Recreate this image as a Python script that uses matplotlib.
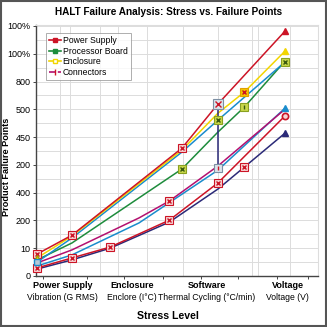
import numpy as np
import matplotlib
matplotlib.use("Agg")
import matplotlib.pyplot as plt
from matplotlib.lines import Line2D
from matplotlib.patches import Rectangle

plt.rcParams["font.family"] = ["Liberation Sans", "DejaVu Sans"]

# stress positions (arbitrary stress scale) and failure point levels
ps_x = [0.04, 1.27, 5.14, 6.41, 8.77]
ps_y = [0.79, 1.47, 4.60, 6.19, 8.81]

encl_x = [0.04, 1.27, 5.14, 6.41, 7.34, 8.77]
encl_y = [0.65, 1.44, 4.53, 5.86, 6.62, 8.09]

blue_hi_x = [0.04, 1.27, 5.14, 6.41, 8.77]
blue_hi_y = [0.50, 1.37, 4.46, 5.61, 7.70]

proc_x = [0.04, 1.27, 5.14, 6.41, 7.34, 8.77]
proc_y = [0.58, 1.19, 3.85, 5.18, 6.08, 7.73]

conn_x = [0.04, 1.27, 3.63, 4.70, 6.41, 8.77]
conn_y = [0.47, 0.94, 2.09, 2.70, 3.96, 6.00]

blue_lo_x = [0.04, 1.27, 3.63, 6.41, 8.77]
blue_lo_y = [0.36, 0.76, 1.91, 3.81, 6.04]

red_lo_x = [0.04, 1.27, 2.61, 4.70, 6.41, 8.77]
red_lo_y = [0.29, 0.65, 1.04, 2.01, 3.35, 5.76]

navy_x = [0.04, 1.27, 2.61, 4.70, 6.41, 7.34, 8.77]
navy_y = [0.25, 0.58, 1.00, 1.94, 3.13, 3.92, 5.14]

link_x = [6.41, 6.41]
link_y = [6.19, 3.90]

ytick_labels = ["0", "10", "200", "400", "200", "450", "500", "800", "100%", "100%"]
cat_x = [0.95, 3.38, 6.02, 8.87]
cat_top = ["Power Supply", "Enclosure", "Software", "Voltage"]
cat_bottom = ["Vibration (G RMS)", "Enclore (I°C)", "Thermal Cycling (°C/min)", "Voltage (V)"]
xtick_pos = [0.25, 1.8, 3.1, 4.47, 5.8, 7.1, 8.5, 9.6]

RED = "#cc1426"
GREEN = "#1e8c3c"
YELLOW = "#f2d500"
BLUE = "#1a8ccc"
MAGENTA = "#b3106f"
NAVY = "#2b2a78"

fig = plt.figure(figsize=(3.27, 3.27), dpi=100)
ax = fig.add_axes([0.110, 0.156, 0.862, 0.768])

# grid
for gx in [0.85, 1.2, 2.25, 2.89, 3.91, 5.18, 6.41, 7.6, 7.82, 8.94]:
    ax.axvline(gx, color="#dcdcdc", lw=0.7, zorder=0)
for gy in np.arange(0.5, 9.1, 0.5):
    ax.axhline(gy, color="#dcdcdc", lw=0.7, zorder=0)

lw = 1.1
ax.plot(navy_x, navy_y, color=NAVY, lw=lw, zorder=2)
ax.plot(red_lo_x, red_lo_y, color=RED, lw=lw, zorder=2)
ax.plot(blue_lo_x, blue_lo_y, color=BLUE, lw=lw, zorder=2)
ax.plot(conn_x, conn_y, color=MAGENTA, lw=lw, zorder=2)
ax.plot(proc_x, proc_y, color=GREEN, lw=lw, zorder=2)
ax.plot(blue_hi_x, blue_hi_y, color=BLUE, lw=lw, zorder=2)
ax.plot(encl_x, encl_y, color=YELLOW, lw=lw, zorder=3)
ax.plot(ps_x, ps_y, color=RED, lw=lw, zorder=3)
ax.plot(link_x, link_y, color=NAVY, lw=lw, zorder=3)


def boxed(x, y, face, edge, inner, imark="x", size=5.5):
    ax.plot(x, y, ls="none", marker="s", ms=size, mfc=face, mec=edge, mew=0.8,
            zorder=5, clip_on=False)
    ax.plot(x, y, ls="none", marker=imark, ms=size * 0.6, mec=inner, mew=1.0,
            zorder=6, clip_on=False)


# x-in-box markers
boxed(ps_x[:3], ps_y[:3], "#f6d3d3", RED, RED)
boxed(red_lo_x[:5], red_lo_y[:5], "#f6d3d3", RED, RED)
boxed([navy_x[5]], [navy_y[5]], "#f6d3d3", RED, RED)
boxed([conn_x[3]], [conn_y[3]], "#f6d3d3", RED, RED)
boxed([ps_x[3]], [ps_y[3]], "#dce4ec", "#7d8fa3", RED, size=6.5)
boxed([encl_x[4]], [encl_y[4]], "#f4c400", "#e0a000", RED)
boxed([blue_hi_x[3], blue_hi_x[4]], [blue_hi_y[3], blue_hi_y[4]], "#c8d84a", "#8aa020", "#3a5a10")
boxed([proc_x[2]], [proc_y[2]], "#c8d84a", "#8aa020", "#3a5a10")
boxed([proc_x[4]], [proc_y[4]], "#c8d84a", "#8aa020", "#3a5a10", imark="|")
boxed([link_x[1]], [link_y[1]], "#dce4ec", "#7d8fa3", RED, imark="|")

# end / start markers
ax.plot(ps_x[-1], ps_y[-1], marker="^", ms=5, color=RED, zorder=6, clip_on=False)
ax.plot(encl_x[-1], encl_y[-1], marker="^", ms=5, color=YELLOW, zorder=6, clip_on=False)
ax.plot(blue_lo_x[-1], blue_lo_y[-1], marker="^", ms=5, color=BLUE, zorder=6, clip_on=False)
ax.plot(navy_x[-1], navy_y[-1], marker="^", ms=5, color=NAVY, zorder=6, clip_on=False)
ax.plot(red_lo_x[-1], red_lo_y[-1], marker="o", ms=4.5, mfc="#f6d3d3", mec=RED, mew=1.2,
        zorder=6, clip_on=False)
ax.plot(encl_x[0], encl_y[0], marker="^", ms=4.5, color=YELLOW, mec="#a0a000", zorder=6, clip_on=False)
ax.plot(blue_hi_x[0], blue_hi_y[0], marker="s", ms=4.5, mfc="#b8c8d8", mec=BLUE, zorder=6, clip_on=False)

ax.set_xlim(0, 9.93)
ax.set_ylim(0, 9.04)
ax.set_yticks(range(len(ytick_labels)))
ax.set_yticklabels(ytick_labels, fontsize=6.5)
ax.set_xticks(xtick_pos)
ax.set_xticklabels([])
ax.tick_params(axis="both", length=2.5, width=0.7, color="#444444", pad=1.5)
for side in ["top", "right"]:
    ax.spines[side].set_color("#dddddd")
for side in ["left", "bottom"]:
    ax.spines[side].set_color("#444444")
    ax.spines[side].set_linewidth(1.0)

for cx, t1, t2 in zip(cat_x, cat_top, cat_bottom):
    fx = 0.110 + 0.862 * cx / 9.93
    fig.text(fx, 1 - 286 / 327, t1, ha="center", va="center", fontsize=6.5,
             fontweight="bold")
    fig.text(fx, 1 - 298 / 327, t2, ha="center", va="center", fontsize=6.2)

fig.text(0.515, 1 - 316 / 327, "Stress Level", ha="center", va="center", fontsize=7.6,
         fontweight="bold")
fig.text(0.02, 1 - 167 / 327, "Product Failure Points", rotation=90, ha="center",
         va="center", fontsize=6.6, fontweight="bold")
fig.text(0.515, 0.962, "HALT Failure Analysis: Stress vs. Failure Points", ha="center",
         va="center", fontsize=7.2, fontweight="bold")

handles = [
    Line2D([], [], color=RED, lw=1.2, marker="s", ms=3.5, mfc=RED, mec=RED),
    Line2D([], [], color=GREEN, lw=1.2, marker="s", ms=3.5, mfc=GREEN, mec=GREEN),
    Line2D([], [], color=YELLOW, lw=1.2, marker="s", ms=3.5, mfc="white", mec=YELLOW),
    Line2D([], [], color=MAGENTA, lw=1.2, ls="--", marker="|", ms=4, mec=RED),
]
labels = ["Power Supply", "Processor Board", "Enclosure", "Connectors"]
leg = ax.legend(handles, labels, loc="upper left", bbox_to_anchor=(0.02, 0.985),
                fontsize=6.2, frameon=True, fancybox=False, handlelength=1.4,
                handletextpad=0.2, borderpad=0.35, labelspacing=0.2)
leg.get_frame().set_edgecolor("#999999")
leg.get_frame().set_linewidth(0.7)

fig.patches.append(Rectangle((0.003, 0.003), 0.994, 0.994, transform=fig.transFigure,
                             fill=False, edgecolor="#555555", lw=1.5))

fig.savefig("out.png", dpi=100)
